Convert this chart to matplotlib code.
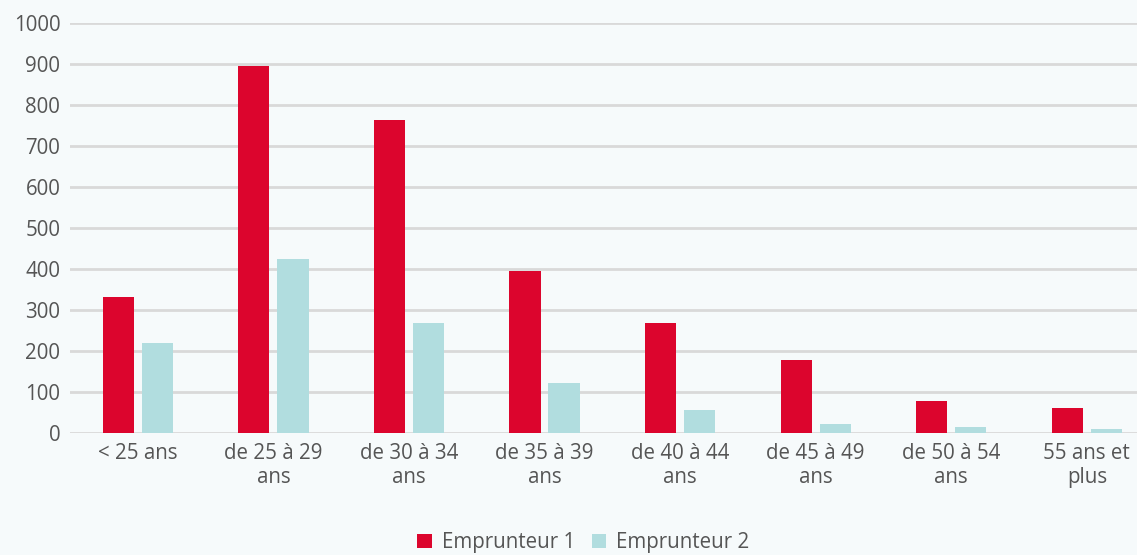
import matplotlib.pyplot as plt
import numpy as np

categories = ["< 25 ans", "de 25 à 29\nans", "de 30 à 34\nans", "de 35 à 39\nans",
              "de 40 à 44\nans", "de 45 à 49\nans", "de 50 à 54\nans", "55 ans et\nplus"]
emprunteur1 = [332, 895, 763, 395, 268, 178, 78, 61]
emprunteur2 = [220, 424, 268, 122, 56, 22, 15, 10]

bg = "#f6fafb"
red = "#dc052d"
teal = "#b1dddf"
txt = "#555555"

plt.rcParams["font.family"] = ["Open Sans", "DejaVu Sans"]

fig = plt.figure(figsize=(11.37, 5.55), dpi=100, facecolor=bg)
ax = fig.add_axes([0.0616, 0.2198, 0.9384, 0.7388], facecolor=bg)

x = np.arange(len(categories))
w = 0.23
ax.bar(x - 0.144, emprunteur1, w, color=red, label="Emprunteur 1", zorder=3)
ax.bar(x + 0.144, emprunteur2, w, color=teal, label="Emprunteur 2", zorder=3)

ax.set_ylim(0, 1000)
ax.set_yticks(range(0, 1001, 100))
ax.set_xlim(-0.5, 7.37)
ax.set_xticks(x)
ax.set_xticklabels(categories, fontsize=14.8, color=txt, linespacing=1.2)
ax.tick_params(axis="y", labelsize=14.8, labelcolor=txt, length=0, pad=7)
ax.tick_params(axis="x", length=0, pad=7)
ax.grid(axis="y", color="#d9d9d9", linewidth=2, zorder=0)
for s in ax.spines.values():
    s.set_visible(False)

fig.legend(loc="lower center", bbox_to_anchor=(0.513, -0.03), ncol=2, frameon=False,
           fontsize=14.8, labelcolor=txt, handlelength=0.7, handleheight=0.7,
           handletextpad=0.5, columnspacing=0.8)

fig.savefig("out.png", dpi=100, facecolor=bg)
